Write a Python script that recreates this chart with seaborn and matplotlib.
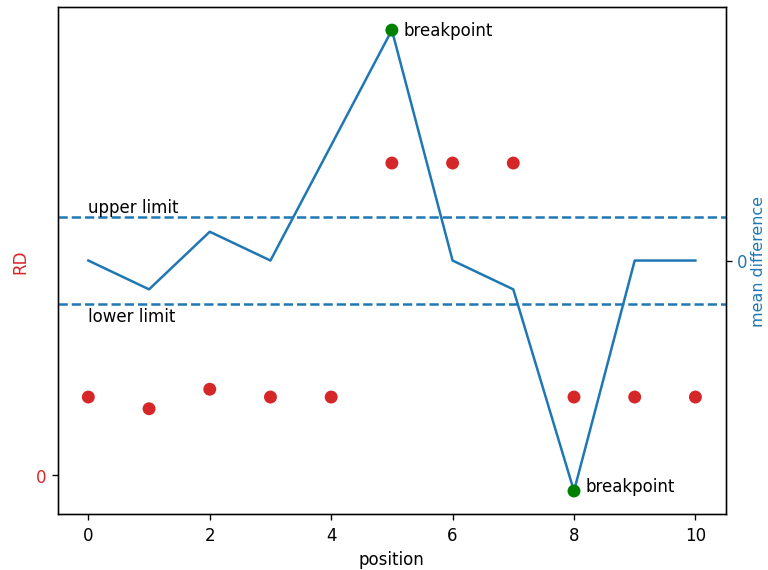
import matplotlib
matplotlib.use("Agg")
import matplotlib.pyplot as plt
import numpy as np
import pandas as pd
import seaborn as sns

positions = [0, 1, 2, 3, 4, 5, 6, 7, 8, 9, 10]
rd_values = [1.0, 0.85, 1.1, 1.0, 1.0, 4.0, 4.0, 4.0, 1.0, 1.0, 1.0]
mean_diff = [0, -1, 1, 0, 4, 8, 0, -1, -8, 0, 0]
upper_limit = 1.5
lower_limit = -1.5
breakpoints = [5, 8]

df = pd.DataFrame({"position": positions, "rd": rd_values, "mean_diff": mean_diff})
bp = df[df["position"].isin(breakpoints)]

fig = plt.figure(figsize=(6.4, 4.758), dpi=120)
ax1 = fig.add_axes([0.0755, 0.098, 0.8695, 0.888])
ax2 = ax1.twinx()

sns.scatterplot(data=df, x="position", y="rd", color="tab:red", s=60,
                edgecolor="none", ax=ax1, legend=False)
ax1.set_ylim(-0.5, 6)
ax1.set_yticks([0])
ax1.tick_params(axis="y", labelcolor="tab:red")
ax1.set_ylabel("RD", color="tab:red")
ax1.set_xlabel("position")
ax1.set_xticks([0, 2, 4, 6, 8, 10])

sns.lineplot(data=df, x="position", y="mean_diff", color="tab:blue", ax=ax2)
ax2.axhline(upper_limit, color="tab:blue", linestyle="--")
ax2.axhline(lower_limit, color="tab:blue", linestyle="--")
sns.scatterplot(data=bp, x="position", y="mean_diff", color="green", s=60,
                edgecolor="none", ax=ax2, legend=False, zorder=5)
for _, r in bp.iterrows():
    dy = 0 if r["mean_diff"] > 0 else 3
    ax2.annotate("breakpoint", (r["position"], r["mean_diff"]), xytext=(7, dy),
                 textcoords="offset points", va="center")
ax2.text(0, upper_limit + 0.05, "upper limit", va="bottom")
ax2.text(0, lower_limit - 0.1, "lower limit", va="top")
ax2.set_yticks([0])
ax2.tick_params(axis="y", labelcolor="tab:blue", pad=3)
ax2.set_ylabel("mean difference", color="tab:blue", labelpad=2.5, fontsize=9.5)
ax1.set_xlim(-0.5, 10.5)

fig.savefig("out.png", dpi=120)
